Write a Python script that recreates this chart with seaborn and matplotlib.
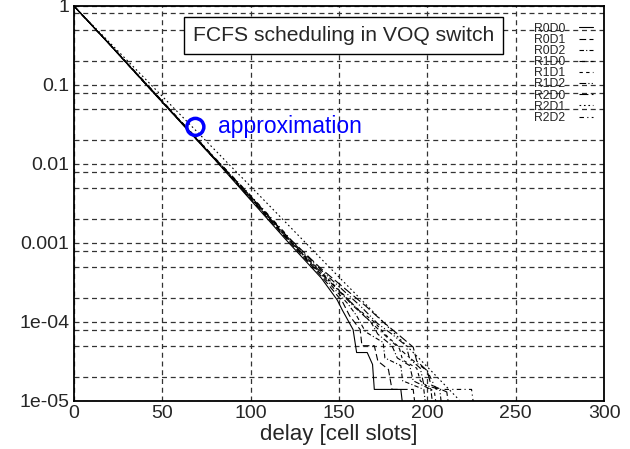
import pandas as pd
import seaborn as sns
import matplotlib
matplotlib.use("Agg")
import matplotlib.pyplot as plt
from matplotlib.ticker import FixedLocator, NullFormatter

# tail probability curves (delay in cell slots, probability)
r0d0_x = [0, 20, 40, 60, 80, 100, 120, 140, 149, 152, 158, 160, 166, 169, 170, 185, 186]
r0d0_y = [1, 0.33, 0.106, 0.0345, 0.0112, 0.0035, 0.0011, 0.00036, 0.00019, 0.00014, 0.00008,
          0.000041, 0.000041, 0.000029, 0.000014, 0.000014, 0.000009]
r0d1_x = [0, 20, 40, 60, 80, 100, 120, 140, 152, 156, 162, 163, 170, 172, 178, 180, 192, 193]
r0d1_y = [1, 0.33, 0.106, 0.0347, 0.0113, 0.0036, 0.00115, 0.00038, 0.00018, 0.00012, 0.00008,
          0.00005, 0.00005, 0.000032, 0.000025, 0.000014, 0.000014, 0.000009]
r0d2_x = [0, 20, 40, 60, 80, 100, 120, 140, 155, 160, 165, 175, 176, 185, 186, 198, 199]
r0d2_y = [1, 0.332, 0.107, 0.035, 0.0114, 0.0037, 0.0012, 0.0004, 0.00017, 0.00012, 0.000075,
          0.000055, 0.000035, 0.000028, 0.000018, 0.000014, 0.000009]
r1d0_x = [0, 20, 40, 60, 80, 100, 120, 140, 158, 168, 172, 180, 183, 190, 192, 202, 203]
r1d0_y = [1, 0.331, 0.107, 0.0349, 0.0114, 0.0037, 0.00118, 0.00042, 0.00016, 0.0001, 0.00007,
          0.00005, 0.000035, 0.000028, 0.000018, 0.000014, 0.000009]
r1d1_x = [0, 20, 40, 60, 80, 100, 120, 140, 160, 170, 176, 184, 186, 194, 196, 204, 205]
r1d1_y = [1, 0.332, 0.108, 0.0352, 0.0115, 0.0038, 0.0012, 0.00043, 0.00015, 0.0001, 0.00007,
          0.000048, 0.000033, 0.000026, 0.000018, 0.000013, 0.000009]
r1d2_x = [0, 20, 40, 60, 80, 100, 120, 140, 162, 172, 180, 188, 190, 196, 198, 207, 208]
r1d2_y = [1, 0.333, 0.108, 0.0354, 0.0116, 0.0039, 0.00124, 0.00045, 0.00016, 0.000095, 0.00007,
          0.00005, 0.000034, 0.000026, 0.000016, 0.000014, 0.000009]
r2d0_x = [0, 20, 40, 60, 80, 100, 120, 140, 165, 175, 184, 192, 194, 200, 202, 211, 212]
r2d0_y = [1, 0.334, 0.109, 0.0356, 0.0117, 0.0039, 0.00126, 0.00047, 0.00016, 0.0001, 0.000068,
          0.000048, 0.000032, 0.000024, 0.000016, 0.000013, 0.000009]
r2d1_x = [0, 50, 100, 150, 200, 218]
r2d1_y = [1, 0.072, 0.0052, 0.00037, 0.000027, 0.0000103]
r2d2_x = [0, 20, 40, 60, 80, 100, 120, 132, 150, 170, 190, 200, 205, 225, 226]
r2d2_y = [1, 0.335, 0.11, 0.036, 0.0118, 0.004, 0.0013, 0.0006, 0.00025, 0.00009, 0.000035,
          0.000024, 0.000014, 0.000014, 0.0000095]

names = ["R0D0", "R0D1", "R0D2", "R1D0", "R1D1", "R1D2", "R2D0", "R2D1", "R2D2"]
xs = [r0d0_x, r0d1_x, r0d2_x, r1d0_x, r1d1_x, r1d2_x, r2d0_x, r2d1_x, r2d2_x]
ys = [r0d0_y, r0d1_y, r0d2_y, r1d0_y, r1d1_y, r1d2_y, r2d0_y, r2d1_y, r2d2_y]
dashes = ["-", (0, (6, 3)), (0, (4, 2, 1, 2)), (0, (5, 2, 1, 2)), (0, (3, 3)),
          (0, (6, 2, 1, 2, 1, 2)), (0, (8, 3)), (0, (1.5, 2.5)), (0, (4, 3, 1, 3))]

approx_x = [68.8]
approx_y = [0.0294]

x_ticks = [0, 50, 100, 150, 200, 250, 300]
y_ticks = [1e-5, 1e-4, 1e-3, 1e-2, 1e-1, 1]
y_labels = ["1e-05", "1e-04", "0.001", "0.01", "0.1", "1"]

sns.set_style("white")
plt.rcParams['font.family'] = ['Liberation Sans', 'DejaVu Sans']

fig, ax = plt.subplots(figsize=(6.3, 4.49), dpi=100)
fig.subplots_adjust(left=0.117, right=0.959, bottom=0.107, top=0.987)

for name, x, y, ls in zip(names, xs, ys, dashes):
    sns.lineplot(x=x, y=y, ax=ax, color="black", linewidth=0.8, linestyle=ls,
                 estimator=None, sort=False, label=name)

sns.scatterplot(x=approx_x, y=approx_y, ax=ax, s=150, marker="o", facecolor="none",
                edgecolor="#0000ff", linewidth=2.5, zorder=5)
ax.text(81.5, approx_y[0], "approximation", color="#0000ff", fontsize=16.5, va="center")

ax.set_yscale("log")
ax.set_xlim(0, 300)
ax.set_ylim(1e-5, 1)
ax.set_xticks(x_ticks)
ax.set_yticks(y_ticks)
ax.set_yticklabels(y_labels)
minor = [m * d for d in y_ticks for m in (0.8, 0.5, 0.2) if m * d > 1e-5]
ax.yaxis.set_minor_locator(FixedLocator(minor))
ax.yaxis.set_minor_formatter(NullFormatter())
ax.tick_params(axis="both", which="both", length=0, labelsize=14, pad=3)
ax.grid(True, which="both", axis="y", color="#333333", linestyle=(0, (4, 3)), linewidth=0.9)
ax.grid(True, which="major", axis="x", color="#333333", linestyle=(0, (4, 3)), linewidth=0.9)
for s in ax.spines.values():
    s.set_color("black")
    s.set_linewidth(1.3)

ax.set_xlabel("delay [cell slots]", fontsize=16, labelpad=1.5)
ax.set_ylabel("")

ax.text(0.509, 0.924, "FCFS scheduling in VOQ switch", transform=ax.transAxes,
        ha="center", va="center", fontsize=15.2,
        bbox=dict(boxstyle="square,pad=0.42", facecolor="white", edgecolor="black", linewidth=1))

ax.legend(loc="upper right", bbox_to_anchor=(1.0, 0.985), frameon=False, markerfirst=False,
          fontsize=8.8, handlelength=1.2, handletextpad=1.1, labelspacing=-0.07,
          borderaxespad=0.5, borderpad=0.4)

plt.savefig("out.png", dpi=100)
